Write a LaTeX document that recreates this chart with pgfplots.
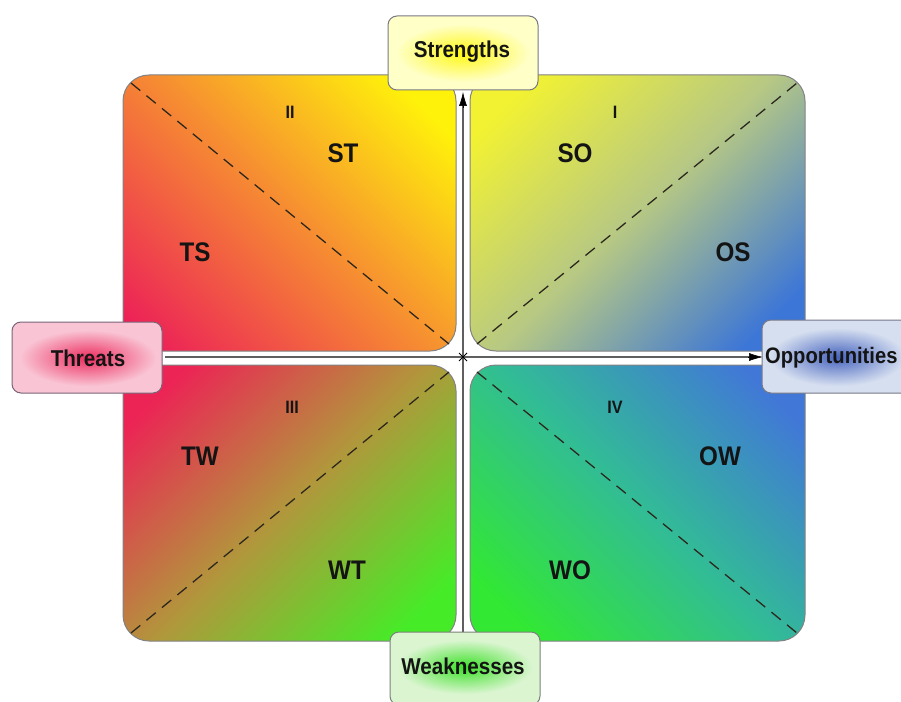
\documentclass[border=0pt]{standalone}
\usepackage{pgfplots}
\pgfplotsset{compat=1.18}
\usetikzlibrary{arrows.meta}
\usepackage{fontspec}
\setmainfont{Liberation Sans}[FakeStretch=0.9]
\definecolor{tlA}{RGB}{236,32,88}
\definecolor{tlB}{RGB}{246,140,50}
\definecolor{tlC}{RGB}{255,242,10}
\definecolor{trA}{RGB}{60,118,215}
\definecolor{trB}{RGB}{182,200,132}
\definecolor{trC}{RGB}{242,242,50}
\definecolor{blA}{RGB}{70,235,40}
\definecolor{blB}{RGB}{178,150,60}
\definecolor{blC}{RGB}{236,36,85}
\definecolor{brA}{RGB}{50,232,50}
\definecolor{brB}{RGB}{50,188,150}
\definecolor{brC}{RGB}{65,120,215}
\pgfdeclareverticalshading{tlshade}{100bp}{color(0bp)=(tlA); color(18bp)=(tlA); color(50bp)=(tlB); color(78bp)=(tlC); color(100bp)=(tlC)}
\pgfdeclareverticalshading{trshade}{100bp}{color(0bp)=(trA); color(22bp)=(trA); color(50bp)=(trB); color(78bp)=(trC); color(100bp)=(trC)}
\pgfdeclareverticalshading{blshade}{100bp}{color(0bp)=(blA); color(22bp)=(blA); color(50bp)=(blB); color(78bp)=(blC); color(100bp)=(blC)}
\pgfdeclareverticalshading{brshade}{100bp}{color(0bp)=(brA); color(22bp)=(brA); color(50bp)=(brB); color(78bp)=(brC); color(100bp)=(brC)}
\definecolor{qborder}{RGB}{130,130,130}
\definecolor{dashc}{RGB}{45,40,30}
\definecolor{txt}{RGB}{20,20,20}
\definecolor{sOut}{RGB}{255,255,200}
\definecolor{sIn}{RGB}{255,248,20}
\definecolor{tOut}{RGB}{249,196,212}
\definecolor{tIn}{RGB}{236,45,95}
\definecolor{oOut}{RGB}{214,223,240}
\definecolor{oIn}{RGB}{70,100,190}
\definecolor{wOut}{RGB}{218,245,208}
\definecolor{wIn}{RGB}{60,225,40}
\begin{document}
\begin{tikzpicture}
\useasboundingbox (0,0) rectangle (901bp,702bp);
\clip (0,0) rectangle (901bp,702bp);
\begin{axis}[at={(0,0)}, anchor=south west, scale only axis,
  width=901bp, height=702bp, xmin=0, xmax=901, ymin=0, ymax=702,
  y dir=reverse, hide axis, clip=false]
% quadrants
\addplot[no marks, draw=qborder, line width=1bp, rounded corners=26bp,
  shading=tlshade, shading angle=-45]
  coordinates {(123,75) (456,75) (456,351) (123,351)} -- cycle;
\addplot[no marks, draw=qborder, line width=1bp, rounded corners=26bp,
  shading=trshade, shading angle=45]
  coordinates {(470,75) (805,75) (805,351) (470,351)} -- cycle;
\addplot[no marks, draw=qborder, line width=1bp, rounded corners=26bp,
  shading=blshade, shading angle=45]
  coordinates {(123,365) (456,365) (456,641) (123,641)} -- cycle;
\addplot[no marks, draw=qborder, line width=1bp, rounded corners=26bp,
  shading=brshade, shading angle=-45]
  coordinates {(470,365) (805,365) (805,641) (470,641)} -- cycle;
% dashed diagonals
\addplot[no marks, dashc, line width=1.3bp, dash pattern=on 12bp off 8bp] coordinates {(131,83) (449,344)};
\addplot[no marks, dashc, line width=1.3bp, dash pattern=on 12bp off 8bp] coordinates {(477,344) (797,83)};
\addplot[no marks, dashc, line width=1.3bp, dash pattern=on 12bp off 8bp] coordinates {(131,633) (449,372)};
\addplot[no marks, dashc, line width=1.3bp, dash pattern=on 12bp off 8bp] coordinates {(477,372) (797,633)};
% axes lines
\addplot[no marks, draw={rgb,255:red,95;green,95;blue,95}, line width=1.3bp] coordinates {(463,635) (463,100)};
\addplot[no marks, draw={rgb,255:red,95;green,95;blue,95}, line width=1.3bp] coordinates {(165,357) (750,357)};
\addplot[no marks, black, line width=0.6bp, -{Latex[length=14bp,width=8bp]}] coordinates {(463,108) (463,92)};
\addplot[no marks, black, line width=0.6bp, -{Latex[length=14bp,width=8bp]}] coordinates {(748,357) (763,357)};
\addplot[no marks, black, line width=1bp] coordinates {(459,353) (467,361)};
\addplot[no marks, black, line width=1bp] coordinates {(459,361) (467,353)};
% label boxes
\addplot[no marks, draw={rgb,255:red,120;green,120;blue,130}, line width=1bp, fill=sOut, rounded corners=9bp]
  coordinates {(388,16) (538,16) (538,90) (388,90)} -- cycle;
\addplot[no marks, draw=none, inner color=sIn, outer color=sOut]
  coordinates {(396,24) (530,24) (530,82) (396,82)} -- cycle;
\addplot[no marks, draw={rgb,255:red,120;green,100;blue,120}, line width=1bp, fill=tOut, rounded corners=9bp]
  coordinates {(12,322) (162,322) (162,393) (12,393)} -- cycle;
\addplot[no marks, draw=none, inner color=tIn, outer color=tOut]
  coordinates {(20,330) (156,330) (156,386) (20,386)} -- cycle;
\addplot[no marks, draw={rgb,255:red,120;green,120;blue,135}, line width=1bp, fill=oOut, rounded corners=9bp]
  coordinates {(762,320) (925,320) (925,393) (762,393)} -- cycle;
\addplot[no marks, draw=none, inner color=oIn, outer color=oOut]
  coordinates {(770,328) (905,328) (905,386) (770,386)} -- cycle;
\addplot[no marks, draw={rgb,255:red,120;green,130;blue,120}, line width=1bp, fill=wOut, rounded corners=9bp]
  coordinates {(390,632) (540,632) (540,705) (390,705)} -- cycle;
\addplot[no marks, draw=none, inner color=wIn, outer color=wOut]
  coordinates {(398,640) (532,640) (532,694) (398,694)} -- cycle;
% texts
\node[txt, font=\bfseries\fontsize{23}{26}\selectfont] at (axis cs:462,52) {Strengths};
\node[txt, font=\bfseries\fontsize{23}{26}\selectfont] at (axis cs:88,358) {Threats};
\node[txt, font=\bfseries\fontsize{22.5}{26}\selectfont, anchor=west, inner sep=0pt] at (axis cs:765,358) {Opportunities};
\node[txt, font=\bfseries\fontsize{23}{26}\selectfont] at (axis cs:463,666) {Weaknesses};
\begin{scope}[every node/.style={txt, font=\bfseries\fontsize{18}{20}\selectfont}]
\node at (axis cs:290,112) {II};
\node at (axis cs:615,112) {I};
\node at (axis cs:292,407) {III};
\node at (axis cs:615,407) {IV};
\end{scope}
\begin{scope}[every node/.style={txt, font=\bfseries\fontsize{27}{30}\selectfont}]
\node at (axis cs:343,153) {ST};
\node at (axis cs:575,153) {SO};
\node at (axis cs:195,252) {TS};
\node at (axis cs:733,252) {OS};
\node at (axis cs:200,456) {TW};
\node at (axis cs:720,456) {OW};
\node at (axis cs:347,570) {WT};
\node at (axis cs:570,570) {WO};
\end{scope}
\end{axis}
\end{tikzpicture}
\end{document}
